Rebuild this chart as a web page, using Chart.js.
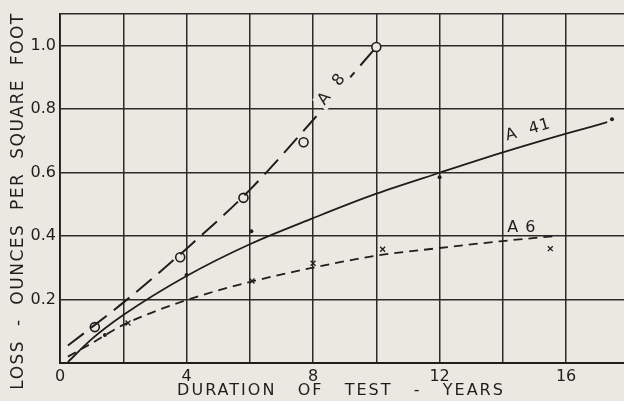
<!DOCTYPE html>
<html>
<head>
<meta charset="utf-8">
<script src="https://cdn.jsdelivr.net/npm/chart.js@4.4.1/dist/chart.umd.min.js"></script>
<style>
  html, body { margin: 0; padding: 0; background: #ebe8e2; }
  #wrap { width: 624px; height: 401px; }
</style>
</head>
<body>
<div id="wrap"><canvas id="lossChart" width="624" height="401"></canvas></div>
<script>
// 곡선 (fitted curves) - years vs loss in oz per sq ft
const a8CurveX = [0.25, 2, 4, 6, 8, 10];
const a8CurveY = [0.055, 0.19, 0.36, 0.545, 0.765, 0.995];
const a41CurveX = [0.25, 1, 2, 4, 6, 8, 10, 12, 14, 16, 17.3];
const a41CurveY = [0.003, 0.075, 0.151, 0.274, 0.374, 0.456, 0.533, 0.599, 0.663, 0.722, 0.758];
const a6CurveX = [0.25, 1, 2, 4, 6, 8, 10, 12, 14, 15.7];
const a6CurveY = [0.02, 0.062, 0.12, 0.198, 0.255, 0.30, 0.338, 0.362, 0.384, 0.40];

// measured points
const a8PointsX = [1.1, 3.8, 5.8, 7.7, 10.0];
const a8PointsY = [0.113, 0.333, 0.52, 0.695, 0.995];
const a41PointsX = [1.42, 4.0, 6.05, 12.0, 17.45];
const a41PointsY = [0.088, 0.277, 0.415, 0.585, 0.767];
const a6PointsX = [2.15, 6.07, 8.0, 10.2, 15.5];
const a6PointsY = [0.126, 0.258, 0.314, 0.358, 0.36];

// axis ticks
const xTickValues = [0, 2, 4, 6, 8, 10, 12, 14, 16];
const xTickLabels = ['0', '', '4', '', '8', '', '12', '', '16'];
const yTickValues = [0, 0.2, 0.4, 0.6, 0.8, 1.0];
const yTickLabels = ['', '0.2', '0.4', '0.6', '0.8', '1.0'];

const xTitle = 'DURATION   OF   TEST   -   YEARS';
const yTitle = 'LOSS  -  OUNCES  PER  SQUARE  FOOT';

const INK = '#1e1e1e';
const PAPER = '#ebe8e2';

function toXY(xs, ys) {
    return xs.map((x, i) => ({ x: x, y: ys[i] }));
}

// curve names written on the plot (data coords)
const curveNames = [
    { text: 'A  8', x: 8.6, y: 0.862, angle: -52, mask: true },
    { text: 'A  41', x: 14.8, y: 0.733, angle: -16, mask: false },
    { text: 'A 6', x: 14.6, y: 0.425, angle: 0, mask: false }
];

const letteringPlugin = {
    id: 'lettering',
    afterDatasetsDraw(chart) {
        const ctx = chart.ctx;
        const xs = chart.scales.x;
        const ys = chart.scales.y;
        ctx.save();
        ctx.font = '16px "DejaVu Sans"';
        ctx.letterSpacing = '1px';
        ctx.textAlign = 'center';
        ctx.textBaseline = 'middle';
        curveNames.forEach(n => {
            ctx.save();
            ctx.translate(xs.getPixelForValue(n.x), ys.getPixelForValue(n.y));
            ctx.rotate(n.angle * Math.PI / 180);
            if (n.mask) {
                // 선이 글자 밑으로 지나가지 않게 배경색으로 덮기
                const w = ctx.measureText(n.text).width + 6;
                ctx.fillStyle = PAPER;
                ctx.fillRect(-w / 2, -9, w, 18);
            }
            ctx.fillStyle = INK;
            ctx.fillText(n.text, 0, 0);
            ctx.restore();
        });
        ctx.restore();
    },
    afterDraw(chart) {
        const ctx = chart.ctx;
        ctx.save();
        ctx.fillStyle = INK;
        ctx.textAlign = 'center';
        ctx.textBaseline = 'middle';
        ctx.font = '16px "DejaVu Sans"';
        ctx.letterSpacing = '2px';
        ctx.fillText(xTitle, 341, 391);
        ctx.translate(19, 201);
        ctx.rotate(-Math.PI / 2);
        ctx.font = '17px "DejaVu Sans"';
        ctx.letterSpacing = '1.5px';
        ctx.fillText(yTitle, 0, 0);
        ctx.restore();
    }
};

const curveStyle = {
    showLine: true,
    pointRadius: 0,
    borderColor: INK,
    cubicInterpolationMode: 'monotone',
    fill: false
};

new Chart(document.getElementById('lossChart').getContext('2d'), {
    type: 'scatter',
    data: {
        datasets: [
            Object.assign({ label: 'A 8 curve', data: toXY(a8CurveX, a8CurveY), borderWidth: 2, borderDash: [20, 9] }, curveStyle),
            Object.assign({ label: 'A 41 curve', data: toXY(a41CurveX, a41CurveY), borderWidth: 1.8 }, curveStyle),
            Object.assign({ label: 'A 6 curve', data: toXY(a6CurveX, a6CurveY), borderWidth: 1.8, borderDash: [9, 6] }, curveStyle),
            {
                label: 'A 8',
                data: toXY(a8PointsX, a8PointsY),
                pointStyle: 'circle',
                pointRadius: 4.5,
                borderWidth: 1.6,
                borderColor: INK,
                backgroundColor: PAPER
            },
            {
                label: 'A 41',
                data: toXY(a41PointsX, a41PointsY),
                pointStyle: 'circle',
                pointRadius: 2,
                borderWidth: 0,
                backgroundColor: INK
            },
            {
                label: 'A 6',
                data: toXY(a6PointsX, a6PointsY),
                pointStyle: 'crossRot',
                pointRadius: 3.5,
                borderWidth: 1.3,
                borderColor: INK
            }
        ]
    },
    options: {
        responsive: false,
        animation: false,
        layout: { autoPadding: false, padding: { top: 13, right: 0, left: 0, bottom: 0 } },
        plugins: {
            legend: { display: false },
            tooltip: { enabled: false }
        },
        scales: {
            x: {
                type: 'linear',
                min: 0,
                max: 17.83,
                afterBuildTicks: scale => {
                    scale.ticks = xTickValues.map(v => ({ value: v }));
                },
                afterFit: scale => {
                    scale.height = 38;
                    scale.paddingRight = 0;
                },
                ticks: {
                    callback: (v, i) => xTickLabels[i] || '',
                    color: INK,
                    padding: 4,
                    maxRotation: 0,
                    autoSkip: false,
                    font: { family: 'DejaVu Sans', size: 16 }
                },
                grid: { color: '#2a2a2a', lineWidth: 1.5, drawTicks: false },
                border: { color: INK, width: 2 }
            },
            y: {
                type: 'linear',
                min: 0,
                max: 1.1,
                afterBuildTicks: scale => {
                    scale.ticks = yTickValues.concat([scale.max]).map(v => ({ value: v }));
                },
                afterFit: scale => { scale.width = 60; },
                ticks: {
                    callback: (v, i) => yTickLabels[i] || '',
                    color: INK,
                    padding: 4,
                    autoSkip: false,
                    font: { family: 'DejaVu Sans', size: 16 }
                },
                grid: { color: '#2a2a2a', lineWidth: 1.5, drawTicks: false },
                border: { color: INK, width: 1.8 }
            }
        }
    },
    plugins: [letteringPlugin]
});
</script>
</body>
</html>
